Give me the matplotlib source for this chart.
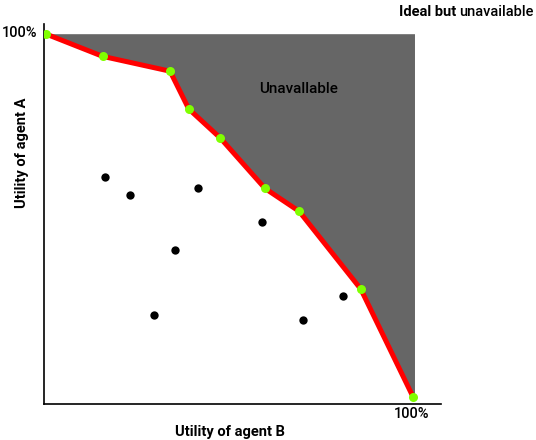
import matplotlib
matplotlib.use('Agg')
import matplotlib.pyplot as plt

# Pareto frontier (utility of B, utility of A)
frontier_b = [0, 15.3, 33.7, 38.8, 47.4, 59.6, 68.9, 85.7, 100]
frontier_a = [100, 93.9, 89.8, 79.4, 71.4, 57.5, 51.2, 29.8, 0]

# dominated outcomes
dots_b = [15.9, 22.7, 41.3, 58.8, 35.1, 29.4, 70.0, 80.8]
dots_a = [60.6, 55.6, 57.6, 48.3, 40.6, 22.5, 21.2, 27.9]

plt.rcParams['font.family'] = ['Roboto', 'DejaVu Sans']

fig = plt.figure(figsize=(5.36, 4.4), dpi=100)
ax = fig.add_axes([0.0812, 0.0818, 0.7416, 0.8636])

# unavailable region above the frontier
poly_b = frontier_b + [100.5, 100.5]
poly_a = frontier_a + [0, 100]
ax.fill(poly_b, poly_a, color='#666666', lw=0, zorder=1)

ax.plot(frontier_b, frontier_a, color='#ff0000', lw=3.6, zorder=2,
        solid_capstyle='butt')
ax.plot(frontier_b, frontier_a, 'o', color='#80ff00', ms=6.5, mew=0, zorder=3)
ax.plot(dots_b, dots_a, 'o', color='black', ms=6, mew=0, zorder=3)

ax.set_xlim(-0.8, 107.6)
ax.set_ylim(-1.9, 102.8)
ax.spines['top'].set_visible(False)
ax.spines['right'].set_visible(False)
ax.spines['left'].set_linewidth(1.2)
ax.spines['bottom'].set_linewidth(1.2)
ax.set_xticks([])
ax.set_yticks([])

ax.text(68.8, 85, 'Unavallable', fontsize=11, fontweight='medium', ha='center', va='center')

fig.text(20 / 536, 1 - 33 / 440, '100%', fontsize=10.5, fontweight='medium', ha='center', va='center')
fig.text(412 / 536, 1 - 414 / 440, '100%', fontsize=10.5, fontweight='medium', ha='center', va='center')
fig.text(230 / 536, 1 - 432 / 440, 'Utility of agent B', fontsize=10.5, fontweight='bold', ha='center', va='center')
fig.text(22 / 536, 1 - 153 / 440, 'Utility of agent A', fontsize=10.5, fontweight='bold',
         ha='center', va='center', rotation=90)

# top-right note, bold first part
t2 = fig.text(534 / 536, 1 - 12 / 440, 'unavailable', fontsize=10.5, fontweight='medium',
              ha='right', va='center')
r = fig.canvas.get_renderer()
left_px = t2.get_window_extent(r).x0
fig.text((left_px - 3) / 536, 1 - 12 / 440, 'Ideal but', fontsize=10.5, fontweight='bold',
         ha='right', va='center')

fig.savefig('out.png', dpi=100)
